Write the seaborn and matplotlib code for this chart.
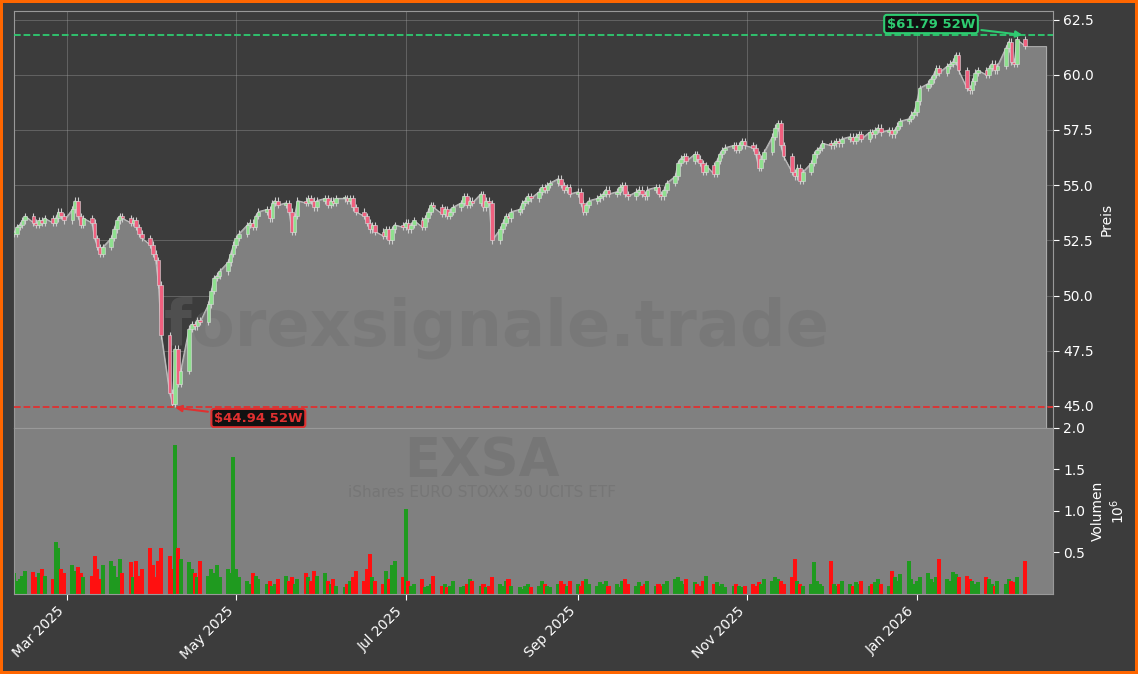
import numpy as np
import pandas as pd
import seaborn as sns
import matplotlib.pyplot as plt
import matplotlib.dates as mdates

# daily closes, Feb 10 2025 .. Feb 9 2026 (business days)
close_feb25 = [52.8, 53.1, 53.2, 53.4, 53.6, 53.3, 53.2, 53.4, 53.3, 53.5, 53.3, 53.5, 53.8, 53.6, 53.4]
close_mar25 = [53.9, 54.3, 53.6, 53.2, 53.5, 53.3, 52.6, 52.2, 51.9, 52.2, 52.6, 53.0, 53.4, 53.6, 53.5,
               53.3, 53.4, 53.1, 52.8, 52.6, 52.3]
close_apr25 = [51.9, 51.6, 50.5, 48.2, 45.6, 45.1, 47.6, 46.0, 46.6, 48.5, 48.7, 48.6, 48.9, 48.8, 49.6,
               50.2, 50.8, 50.9, 51.1, 51.5, 51.9, 52.3]
close_may25 = [52.6, 52.8, 53.2, 53.3, 53.1, 53.6, 53.8, 53.9, 53.5, 54.2, 54.3, 54.1, 54.2, 53.8, 52.9,
               53.6, 54.3, 54.2, 54.4, 54.3, 54.0, 54.3]
close_jun25 = [54.4, 54.1, 54.3, 54.2, 54.4, 54.4, 54.3, 54.4, 54.0, 53.8, 53.6, 53.3, 53.0, 53.2, 52.9,
               52.7, 53.0, 52.5, 53.0, 53.2, 53.1]
close_jul25 = [53.3, 53.0, 53.2, 53.4, 53.1, 53.5, 53.8, 54.1, 54.0, 53.7, 53.9, 53.6, 53.8, 54.0, 54.2,
               54.5, 54.1, 54.3, 54.2, 54.6, 54.0, 54.3, 54.2]
close_aug25 = [52.5, 53.0, 53.3, 53.6, 53.5, 53.8, 53.9, 54.2, 54.3, 54.5, 54.4, 54.7, 54.9, 54.8, 55.0,
               55.1, 55.3, 55.0, 54.8, 54.9, 54.6]
close_sep25 = [54.7, 54.2, 53.8, 54.1, 54.3, 54.4, 54.5, 54.6, 54.8, 54.6, 54.7, 54.9, 55.0, 54.6, 54.5,
               54.7, 54.8, 54.6, 54.5, 54.8, 54.9, 54.6]
close_oct25 = [54.5, 54.8, 55.1, 55.4, 56.0, 56.2, 56.3, 56.1, 56.4, 56.2, 56.0, 55.6, 55.9, 55.5, 56.1,
               56.4, 56.6, 56.7, 56.8, 56.6, 56.8, 57.0, 56.8]
close_nov25 = [56.7, 56.4, 55.8, 56.2, 56.5, 57.2, 57.6, 57.8, 56.8, 56.3, 55.6, 55.4, 55.8, 55.2, 55.6,
               56.0, 56.4, 56.6, 56.7, 56.9]
close_dec25 = [56.8, 56.9, 57.0, 56.9, 57.1, 57.2, 57.0, 57.2, 57.3, 57.1, 57.4, 57.3, 57.5, 57.6, 57.4,
               57.5, 57.3, 57.5, 57.7, 57.9, 58.0, 58.2, 58.3]
close_jan26 = [58.8, 59.4, 59.6, 59.8, 60.0, 60.3, 60.1, 60.4, 60.5, 60.6, 60.9, 60.2, 59.4, 59.3, 59.7,
               60.1, 60.2, 60.0, 60.3, 60.5, 60.2, 60.4]
close_feb26 = [61.2, 61.5, 60.6, 60.5, 61.6, 61.3]

# daily volume in millions
vol_feb25 = [.25, .15, .18, .22, .28, .26, .20, .25, .30, .22, .18, .62, .55, .30, .25]
vol_mar25 = [.35, .28, .32, .25, .20, .22, .45, .30, .18, .35, .40, .33, .20, .42, .25, .38, .20, .40, .22, .30, .55]
vol_apr25 = [.35, .20, .40, .55, .45, .30, 1.80, .55, .42, .38, .30, .25, .20, .40, .22, .30, .25, .35, .20, .30, .25, 1.65]
vol_may25 = [.30, .20, .15, .12, .25, .22, .18, .12, .15, .10, .12, .18, .22, .15, .20, .12, .18, .25, .20, .15, .28, .22]
vol_jun25 = [.25, .15, .12, .18, .10, .08, .12, .15, .20, .28, .15, .30, .48, .20, .15, .12, .28, .18, .35, .40, .20]
vol_jul25 = [1.02, .15, .10, .12, .18, .08, .10, .12, .22, .10, .12, .08, .10, .15, .08, .10, .12, .18, .15, .10, .12, .08, .10]
vol_aug25 = [.20, .12, .10, .15, .18, .10, .08, .06, .10, .12, .08, .10, .15, .12, .10, .08, .12, .15, .12, .10, .15]
vol_sep25 = [.12, .10, .15, .18, .12, .10, .14, .12, .16, .10, .12, .08, .15, .18, .12, .10, .14, .10, .12, .15, .10, .12]
vol_oct25 = [.10, .12, .15, .18, .20, .15, .12, .18, .14, .12, .10, .15, .22, .12, .14, .10, .12, .08, .10, .12, .10, .08, .10]
vol_nov25 = [.12, .10, .14, .12, .18, .15, .20, .18, .15, .12, .20, .42, .15, .12, .10, .12, .38, .15, .12, .10]
vol_dec25 = [.40, .12, .10, .12, .15, .12, .10, .14, .12, .15, .10, .12, .14, .18, .12, .10, .28, .20, .15, .24, .40, .18, .12]
vol_jan26 = [.15, .20, .25, .18, .14, .20, .42, .18, .15, .26, .24, .20, .22, .18, .15, .12, .14, .20, .18, .12, .10, .15]
vol_feb26 = [.12, .18, .15, .14, .20, .40]

high_52w = 61.79
low_52w = 44.94
ticker = "EXSA"
fund_name = "iShares EURO STOXX 50 UCITS ETF"

close = np.array(close_feb25 + close_mar25 + close_apr25 + close_may25 + close_jun25 + close_jul25
                 + close_aug25 + close_sep25 + close_oct25 + close_nov25 + close_dec25 + close_jan26 + close_feb26)
volume = np.array(vol_feb25 + vol_mar25 + vol_apr25 + vol_may25 + vol_jun25 + vol_jul25 + vol_aug25
                  + vol_sep25 + vol_oct25 + vol_nov25 + vol_dec25 + vol_jan26 + vol_feb26)
n = min(len(close), len(volume))
close, volume = close[:n], volume[:n]
dates = pd.bdate_range("2025-02-10", periods=n)
opens = np.concatenate([[close[0]], close[:-1]])
up = close >= opens
df = pd.DataFrame({"date": dates, "close": close})

sns.set_style("dark")
plt.rcParams["font.family"] = ["DejaVu Sans"]
bg = "#3c3c3c"
fig = plt.figure(figsize=(11.38, 6.74), dpi=100, facecolor=bg, edgecolor="#ff6600", linewidth=4)
ax = fig.add_axes([0.0123, 0.365, 0.913, 0.619], facecolor=bg)
axv = fig.add_axes([0.0123, 0.119, 0.913, 0.246], facecolor="#808080", sharex=ax)

x = mdates.date2num(dates)
x_end = mdates.date2num(pd.Timestamp("2026-02-17"))
ax.fill_between(np.append(x, [x[-1] + 0.5, x_end - 0.5]), np.append(close, [close[-1], close[-1]]),
                40, color="#808080", edgecolor="#aaaaaa", lw=0.8, zorder=1)
sns.lineplot(data=df, x="date", y="close", ax=ax, color="#bbbbbb", lw=0.8, zorder=2)

body_lo = np.minimum(opens, close)
body_hi = np.maximum(opens, close)
ax.vlines(x, body_lo - 0.15, body_hi + 0.15, color="#cccccc", lw=0.8, zorder=3)
ax.bar(x, np.maximum(body_hi - body_lo, 0.06), bottom=body_lo, width=1.3,
       color=np.where(up, "#8fe08f", "#f0607f"), edgecolor="#dddddd", lw=0.4, zorder=4)

ax.axhline(high_52w, color="#2ecc71", ls="--", lw=1.3, zorder=5)
ax.axhline(low_52w, color="#e03030", ls="--", lw=1.3, zorder=5)
ax.annotate(f"${high_52w:.2f} 52W", xy=(x[-1], high_52w), xytext=(x[-1] - 18, 62.3),
            ha="right", va="center", color="#2ecc71", fontsize=9.5, fontweight="bold",
            bbox=dict(boxstyle="round,pad=0.2", fc="#111111", ec="#2ecc71", lw=1.5),
            arrowprops=dict(arrowstyle="-|>", color="#2ecc71", lw=1.5), zorder=6)
i_low = int(np.argmin(close))
ax.annotate(f"${low_52w:.2f} 52W", xy=(x[i_low], low_52w), xytext=(x[i_low] + 15, 44.45),
            ha="left", va="center", color="#e03030", fontsize=9.5, fontweight="bold",
            bbox=dict(boxstyle="round,pad=0.2", fc="#111111", ec="#e03030", lw=1.5),
            arrowprops=dict(arrowstyle="-|>", color="#e03030", lw=1.5), zorder=6)

ax.text(0.465, 0.24, "forexsignale.trade", transform=ax.transAxes, ha="center", va="center",
        fontsize=46, fontweight="bold", color="#6e6e6e", alpha=0.4, zorder=1.5)
axv.text(0.45, 0.8, ticker, transform=axv.transAxes, ha="center", va="center",
         fontsize=38, fontweight="bold", color="#767676", zorder=0.5)
axv.text(0.45, 0.61, fund_name, transform=axv.transAxes, ha="center", va="center",
         fontsize=11, color="#767676", zorder=0.5)

axv.bar(x, volume, width=1.45, color=np.where(up, "#1f9a1f", "#ff1010"), edgecolor="none", zorder=2)

ax.set_ylim(44.0, 62.9)
ax.set_yticks([45.0, 47.5, 50.0, 52.5, 55.0, 57.5, 60.0, 62.5])
ax.set_xlim(mdates.date2num(pd.Timestamp("2025-02-10")), x_end + 2)
axv.set_ylim(0, 2.0)
axv.set_yticks([0.5, 1.0, 1.5, 2.0])

for a in (ax, axv):
    a.yaxis.tick_right()
    a.yaxis.set_label_position("right")
    a.tick_params(colors="white", labelsize=10, length=4, left=False, right=True, bottom=True)
    for s in a.spines.values():
        s.set_color("#999999")
ax.grid(True, color="#aaaaaa", alpha=0.35, lw=0.7)
axv.grid(False)
ax.tick_params(labelbottom=False)
ax.set_ylabel("Preis", color="white")
axv.set_ylabel("Volumen\n$10^6$", color="white")
ax.set_xlabel("")
axv.xaxis.set_major_locator(mdates.MonthLocator(bymonth=[1, 3, 5, 7, 9, 11]))
axv.xaxis.set_minor_locator(mdates.MonthLocator())
axv.xaxis.set_major_formatter(mdates.DateFormatter("%b %Y"))
axv.tick_params(axis="x", which="minor", length=3, colors="white")
plt.setp(axv.get_xticklabels(), rotation=45, ha="right")

fig.savefig("out.png", dpi=100, facecolor=bg, edgecolor="#ff6600")
